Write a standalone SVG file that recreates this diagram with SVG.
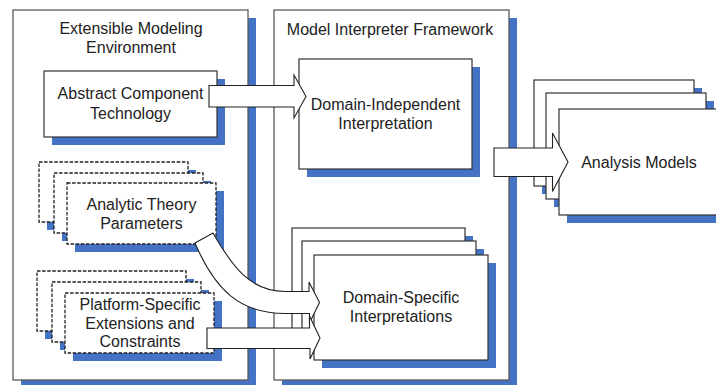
<svg xmlns="http://www.w3.org/2000/svg" width="716" height="385" viewBox="0 0 716 385">
  <style>
    .frame { fill: #ffffff; stroke: #5a5a5a; stroke-width: 1.3; }
    .card { fill: #ffffff; stroke: #333333; stroke-width: 1.2; }
    .dashed { fill: #ffffff; stroke: #222222; stroke-width: 1.3; stroke-dasharray: 3.5 1.6; }
    .shadow { fill: #4472c4; stroke: none; }
    .arrow { fill: #ffffff; stroke: #222222; stroke-width: 1.1; stroke-linejoin: miter; }
    text { font-family: "Liberation Sans", Arial, sans-serif; font-size: 16px; fill: #222222; text-anchor: middle; }
  </style>

  <!-- Extensible Modeling Environment frame -->
  <g id="env">
    <rect class="shadow" x="21" y="18" width="235" height="370"/>
    <rect class="frame" x="13" y="10" width="235" height="370"/>
    <text x="131" y="33.5">Extensible Modeling</text>
    <text x="131" y="52.5">Environment</text>
  </g>

  <!-- Model Interpreter Framework frame -->
  <g id="framework">
    <rect class="shadow" x="282" y="18" width="235" height="370"/>
    <rect class="frame" x="274" y="10" width="235" height="370"/>
    <text x="390" y="35">Model Interpreter Framework</text>
  </g>

  <g id="abstract-component">
    <rect class="shadow" x="52" y="79" width="173" height="66"/>
    <rect class="card" x="44" y="71" width="173" height="66"/>
    <text x="130.5" y="99">Abstract Component</text>
    <text x="130.5" y="118.5">Technology</text>
  </g>

  <g id="analytic-theory">
    <rect class="shadow" x="47" y="170" width="149" height="60"/>
    <rect class="dashed" x="39" y="162" width="149" height="60"/>
    <rect class="shadow" x="62" y="181" width="149" height="60"/>
    <rect class="dashed" x="54" y="173" width="149" height="60"/>
    <rect class="shadow" x="75" y="191" width="149" height="61"/>
    <rect class="dashed" x="67" y="183" width="149" height="61"/>
    <text x="141.5" y="210">Analytic Theory</text>
    <text x="141.5" y="229">Parameters</text>
  </g>

  <g id="platform-specific">
    <rect class="shadow" x="45" y="279" width="149" height="60"/>
    <rect class="dashed" x="37" y="271" width="149" height="60"/>
    <rect class="shadow" x="60" y="290" width="149" height="60"/>
    <rect class="dashed" x="52" y="282" width="149" height="60"/>
    <rect class="shadow" x="73" y="301" width="149" height="60"/>
    <rect class="dashed" x="65" y="293" width="149" height="60"/>
    <text x="140" y="309.5">Platform-Specific</text>
    <text x="140" y="328.5">Extensions and</text>
    <text x="140" y="347">Constraints</text>
  </g>

  <g id="domain-independent">
    <rect class="shadow" x="307" y="67" width="173" height="110"/>
    <rect class="card" x="299" y="59" width="173" height="110"/>
    <text x="385.5" y="110">Domain-Independent</text>
    <text x="385.5" y="129">Interpretation</text>
  </g>

  <g id="domain-specific">
    <rect class="shadow" x="300" y="236" width="173" height="105"/>
    <rect class="card" x="292" y="228" width="173" height="105"/>
    <rect class="shadow" x="310" y="249" width="174" height="105"/>
    <rect class="card" x="302" y="241" width="174" height="105"/>
    <rect class="shadow" x="322" y="263" width="174" height="105"/>
    <rect class="card" x="314" y="255" width="174" height="105"/>
    <text x="401" y="302.5">Domain-Specific</text>
    <text x="401" y="321.5">Interpretations</text>
  </g>

  <g id="analysis-models">
    <rect class="shadow" x="542" y="88" width="160" height="106"/>
    <rect class="card" x="534" y="80" width="160" height="106"/>
    <rect class="shadow" x="554" y="101" width="160" height="106"/>
    <rect class="card" x="546" y="93" width="160" height="106"/>
    <rect class="shadow" x="567" y="117" width="160" height="106"/>
    <rect class="card" x="559" y="109" width="160" height="106"/>
    <text x="639" y="167.5">Analysis Models</text>
  </g>

  <!-- block arrows -->
  <g id="connectors">
    <path class="arrow" d="M209,85.5 L294,85.5 L294,75 L306,96.5 L294,118 L294,107 L209,107 Z"/>
    <path class="arrow" d="M494,148 L552.5,148 L552.5,133 L568,162 L552.5,191.5 L552.5,176.5 L494,176.5 Z"/>
    <path class="arrow" d="M195,243 L213,233 C232,266 250,291.5 285,291.5 L309,291.5 L309,282 L319.5,302.5 L309.5,323 L309.5,313.5 L285,313.5 C240,313.5 215,290 195,243 Z"/>
    <path class="arrow" d="M207,328 L309.5,328 L309.5,316 L320,338 L310,359 L310,348.5 L207,348.5 Z"/>
  </g>
</svg>
